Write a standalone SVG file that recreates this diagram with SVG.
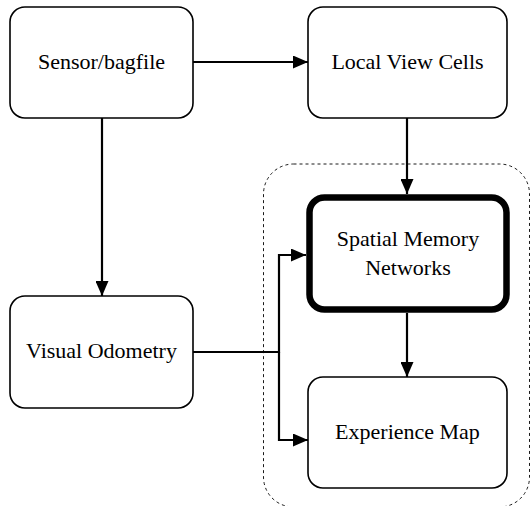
<svg xmlns="http://www.w3.org/2000/svg" width="530" height="506" viewBox="0 0 530 506">
<style>
.box{fill:#fff;stroke:#000;stroke-width:1.6}
.thick{fill:#fff;stroke:#000;stroke-width:6.5}
.lbl{font-family:"Liberation Serif","Times New Roman",serif;font-size:22px;fill:#000;text-anchor:middle}
.edge{fill:none;stroke:#000;stroke-width:2.2}
.group{fill:none;stroke:#000;stroke-width:0.9;stroke-dasharray:3,3}
</style>
<defs>
<marker id="arr" markerUnits="userSpaceOnUse" markerWidth="15" markerHeight="13" refX="15" refY="6.5" orient="auto">
<path d="M0,0 L15,6.5 L0,13 z" fill="#000"/>
</marker>
</defs>
<rect class="group" x="263.5" y="164" width="266" height="343" rx="30"/>
<g id="sensor">
<rect class="box" x="10" y="7" width="183" height="111" rx="15"/>
<text class="lbl" x="101.5" y="69">Sensor/bagfile</text>
</g>
<g id="localview">
<rect class="box" x="308" y="7" width="199" height="111" rx="15"/>
<text class="lbl" x="407.5" y="69">Local View Cells</text>
</g>
<g id="spatial">
<rect class="thick" x="309.5" y="197.5" width="197" height="112" rx="15"/>
<text class="lbl" x="408" y="246">Spatial Memory</text>
<text class="lbl" x="408" y="275">Networks</text>
</g>
<g id="odometry">
<rect class="box" x="10" y="296" width="183" height="112" rx="15"/>
<text class="lbl" x="101.5" y="358">Visual Odometry</text>
</g>
<g id="expmap">
<rect class="box" x="308" y="377" width="199" height="111" rx="15"/>
<text class="lbl" x="407.5" y="439">Experience Map</text>
</g>
<g id="connectors">
<path class="edge" d="M193,62 H308" marker-end="url(#arr)"/>
<path class="edge" d="M102,118 V296" marker-end="url(#arr)"/>
<path class="edge" d="M407,118 V194" marker-end="url(#arr)"/>
<path class="edge" d="M407,313 V377" marker-end="url(#arr)"/>
<path class="edge" d="M193,352 H279 V255 H306" marker-end="url(#arr)"/>
<path class="edge" d="M279,352 V440 H308" marker-end="url(#arr)"/>
</g>
</svg>
